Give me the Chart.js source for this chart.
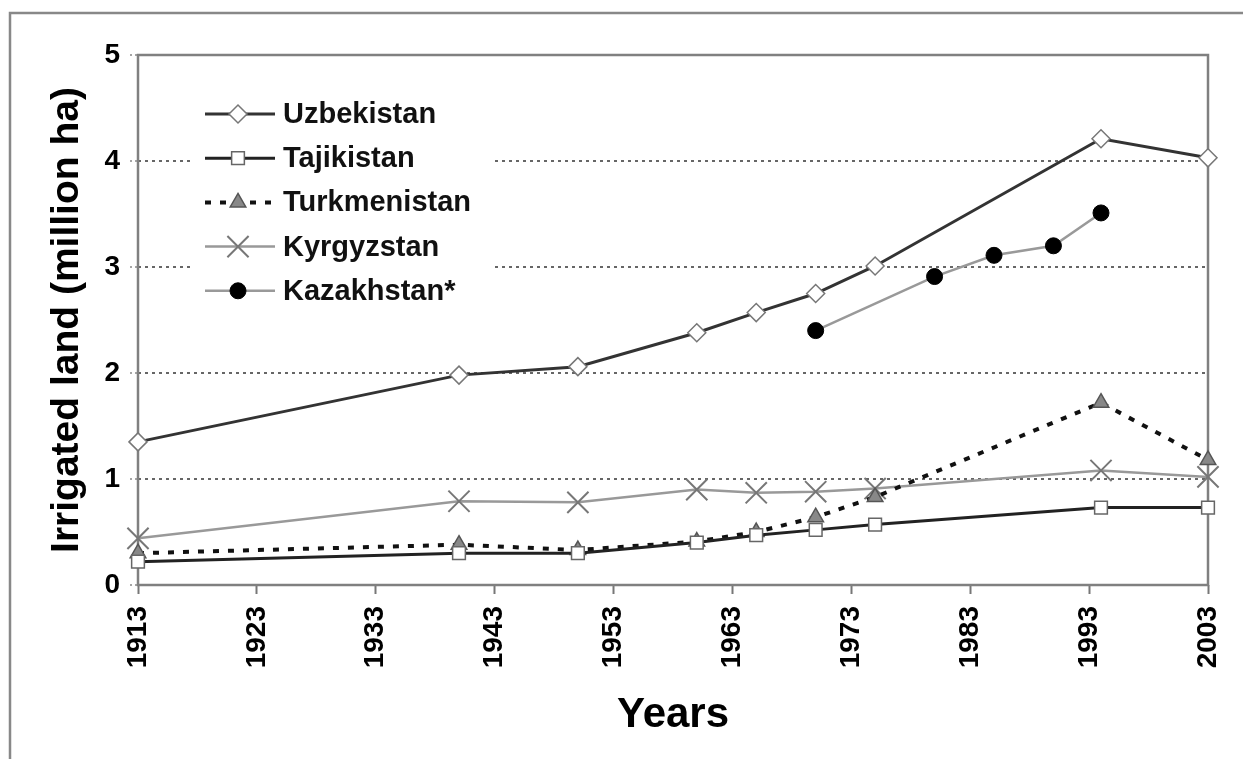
<!DOCTYPE html>
<html>
<head>
<meta charset="utf-8">
<script src="https://cdn.jsdelivr.net/npm/chart.js@4.4.1/dist/chart.umd.min.js"></script>
<style>
  body { margin: 0; background: #fff; }
  canvas { display: block; }
</style>
</head>
<body>
<canvas id="output" width="1243" height="759"></canvas>
<script>
// years with data (same for the first four countries)
let years = [1913, 1940, 1950, 1960, 1965, 1970, 1975, 1994, 2003]
let uzbekistan = [1.35, 1.98, 2.06, 2.38, 2.57, 2.75, 3.01, 4.21, 4.03]
let tajikistan = [0.22, 0.30, 0.30, 0.40, 0.47, 0.52, 0.57, 0.73, 0.73]
let turkmenistan = [0.30, 0.38, 0.33, 0.41, 0.50, 0.64, 0.83, 1.72, 1.18]
let kyrgyzstan = [0.44, 0.79, 0.78, 0.90, 0.87, 0.88, 0.91, 1.08, 1.02]
// Kazakhstan only has later years
let kazYears = [1970, 1980, 1985, 1990, 1994]
let kazakhstan = [2.40, 2.91, 3.11, 3.20, 3.51]

let xTicks = [1913, 1923, 1933, 1943, 1953, 1963, 1973, 1983, 1993, 2003]
let yTicks = [0, 1, 2, 3, 4, 5]

let FONT = '"Liberation Sans", Arial, sans-serif'

function $each (arr, fn) {
  for (let i = 0; i < arr.length; i++) fn(arr[i], i)
}

function toPoints (xs, ys) {
  let pts = []
  for (let i = 0; i < xs.length; i++) {
    pts.push({x: xs[i], y: ys[i]})
  }
  return pts
}

// series look, used for both the lines and the legend
let series = [
  {label: 'Uzbekistan', data: toPoints(years, uzbekistan), line: '#333', width: 3, dash: [],
    style: 'rectRot', r: 9, fill: '#fff', stroke: '#777', bw: 1.5},
  {label: 'Tajikistan', data: toPoints(years, tajikistan), line: '#222', width: 3, dash: [],
    style: 'rect', r: 9, fill: '#fff', stroke: '#666', bw: 1.5},
  {label: 'Turkmenistan', data: toPoints(years, turkmenistan), line: '#111', width: 4, dash: [6, 9],
    style: 'triangle', r: 9, fill: '#888', stroke: '#555', bw: 1.5},
  {label: 'Kyrgyzstan', data: toPoints(years, kyrgyzstan), line: '#999', width: 2.5, dash: [],
    style: 'crossRot', r: 15, fill: '#777', stroke: '#777', bw: 2},
  {label: 'Kazakhstan*', data: toPoints(kazYears, kazakhstan), line: '#999', width: 2.5, dash: [],
    style: 'circle', r: 8, fill: '#000', stroke: '#000', bw: 1}
]

let datasets = []
$each(series, function (s) {
  datasets.push({
    label: s.label,
    data: s.data,
    borderColor: s.line,
    borderWidth: s.width,
    borderDash: s.dash,
    pointStyle: s.style,
    pointRadius: s.r,
    pointBackgroundColor: s.fill,
    pointBorderColor: s.stroke,
    pointBorderWidth: s.bw,
    tension: 0,
    fill: false,
    clip: false
  })
})

// simple marker drawing for the legend samples
function drawMarker (ctx, s, x, y) {
  ctx.save()
  ctx.setLineDash([])
  ctx.fillStyle = s.fill
  ctx.strokeStyle = s.stroke
  ctx.lineWidth = s.bw
  ctx.beginPath()
  let r = s.r
  if (s.style === 'rectRot') {
    ctx.moveTo(x - r, y); ctx.lineTo(x, y - r); ctx.lineTo(x + r, y); ctx.lineTo(x, y + r); ctx.closePath()
    ctx.fill(); ctx.stroke()
  } else if (s.style === 'rect') {
    let h = r * Math.SQRT1_2
    ctx.rect(x - h, y - h, 2 * h, 2 * h)
    ctx.fill(); ctx.stroke()
  } else if (s.style === 'triangle') {
    ctx.moveTo(x, y - r)
    ctx.lineTo(x + r * 0.866, y + r * 0.5)
    ctx.lineTo(x - r * 0.866, y + r * 0.5)
    ctx.closePath()
    ctx.fill(); ctx.stroke()
  } else if (s.style === 'crossRot') {
    let h = r * Math.SQRT1_2
    ctx.moveTo(x - h, y - h); ctx.lineTo(x + h, y + h)
    ctx.moveTo(x + h, y - h); ctx.lineTo(x - h, y + h)
    ctx.stroke()
  } else {
    ctx.arc(x, y, r, 0, Math.PI * 2)
    ctx.fill(); ctx.stroke()
  }
  ctx.restore()
}

let framePlugin = {
  id: 'frame',
  beforeDraw: function (chart) {
    let ctx = chart.ctx
    ctx.save()
    ctx.fillStyle = '#fff'
    ctx.fillRect(0, 0, chart.width, chart.height)
    // outer figure border (left and top only visible)
    ctx.strokeStyle = '#888'
    ctx.lineWidth = 2.5
    ctx.beginPath()
    ctx.moveTo(10, chart.height + 5)
    ctx.lineTo(10, 13)
    ctx.lineTo(chart.width + 5, 13)
    ctx.stroke()
    ctx.restore()
  },
  beforeDatasetsDraw: function (chart) {
    let ctx = chart.ctx
    let a = chart.chartArea
    ctx.save()
    // plot box
    ctx.strokeStyle = '#808080'
    ctx.lineWidth = 2.5
    ctx.strokeRect(a.left, a.top, a.right - a.left, a.bottom - a.top)
    // legend box, white so it hides the grid lines
    ctx.fillStyle = '#fff'
    ctx.fillRect(190, 92, 304, 220)
    let y0 = 114
    $each(series, function (s, i) {
      let y = y0 + i * 44.2
      ctx.strokeStyle = s.line
      ctx.lineWidth = s.width
      ctx.setLineDash(s.dash)
      ctx.beginPath()
      ctx.moveTo(205, y)
      ctx.lineTo(275, y)
      ctx.stroke()
      drawMarker(ctx, s, 238, y)
      ctx.fillStyle = '#111'
      ctx.font = 'bold 29px ' + FONT
      ctx.textAlign = 'left'
      ctx.textBaseline = 'middle'
      ctx.fillText(s.label, 283, y + 1)
    })
    ctx.restore()
  }
}

var ctx = document.getElementById('output').getContext('2d')
var myChart = new Chart(ctx, {
  type: 'line',
  data: {datasets: datasets},
  plugins: [framePlugin],
  options: {
    responsive: false,
    animation: false,
    devicePixelRatio: 1,
    layout: {padding: {left: 0, top: 55, right: 35, bottom: 0}},
    plugins: {
      legend: {display: false},
      tooltip: {enabled: false}
    },
    scales: {
      x: {
        type: 'linear',
        min: 1913,
        max: 2003,
        afterBuildTicks: function (scale) {
          scale.ticks = xTicks.map(function (v) { return {value: v} })
        },
        afterFit: function (scale) {
          scale.height = 174
          scale.paddingLeft = 0
          scale.paddingRight = 0
        },
        ticks: {
          autoSkip: false,
          minRotation: 90,
          maxRotation: 90,
          padding: 12,
          color: '#000',
          font: {family: FONT, size: 28, weight: 'bold'},
          callback: function (v) { return String(v) }
        },
        grid: {
          drawOnChartArea: false,
          tickLength: 9,
          tickColor: '#777',
          tickWidth: 2
        },
        border: {display: false},
        title: {
          display: true,
          text: 'Years',
          color: '#000',
          font: {family: FONT, size: 42, weight: 'bold'},
          padding: {top: 0, bottom: 18}
        }
      },
      y: {
        min: 0,
        max: 5,
        afterBuildTicks: function (scale) {
          scale.ticks = yTicks.map(function (v) { return {value: v} })
        },
        afterFit: function (scale) { scale.width = 138 },
        ticks: {
          padding: 10,
          color: '#000',
          font: {family: FONT, size: 28, weight: 'bold'}
        },
        grid: {
          color: function (c) {
            if (!c.tick || c.tick.value === 0 || c.tick.value === 5) return 'rgba(0,0,0,0)'
            return '#666'
          },
          lineWidth: 2,
          tickLength: 8,
          tickColor: '#888',
          tickWidth: 1.5,
          tickBorderDash: [2, 3]
        },
        border: {display: false, dash: [3, 4]},
        title: {
          display: true,
          text: 'Irrigated land (million ha)',
          color: '#000',
          font: {family: FONT, size: 39, weight: 'bold'},
          padding: {top: 44, bottom: 0}
        }
      }
    }
  }
})
</script>
</body>
</html>
